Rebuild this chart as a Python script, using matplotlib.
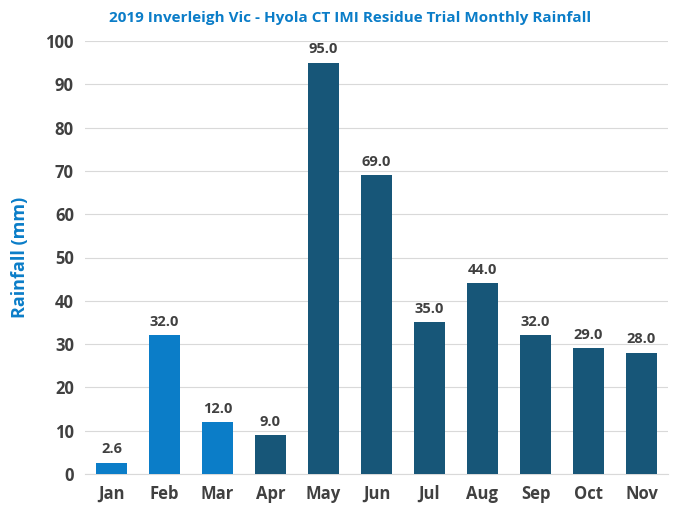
import matplotlib.pyplot as plt

months = ['Jan', 'Feb', 'Mar', 'Apr', 'May', 'Jun', 'Jul', 'Aug', 'Sep', 'Oct', 'Nov']
rainfall = [2.6, 32.0, 12.0, 9.0, 95.0, 69.0, 35.0, 44.0, 32.0, 29.0, 28.0]
colors = ['#0B7DC8'] * 3 + ['#175678'] * 8

plt.rcParams['font.family'] = ['Open Sans', 'DejaVu Sans']

fig = plt.figure(figsize=(6.73, 5.23), dpi=100)
ax = fig.add_axes([85 / 673, 1 - 474 / 523, 583 / 673, 433 / 523])

bars = ax.bar(months, rainfall, color=colors, width=0.6, zorder=3)
for b, v in zip(bars, rainfall):
    ax.text(b.get_x() + b.get_width() / 2, v + 1.5, f'{v:.1f}', ha='center', va='bottom',
            fontsize=10.5, fontweight='bold', color='#404040')

ax.set_ylim(0, 100)
ax.set_xlim(-0.5, len(months) - 0.5)
ax.set_yticks(range(0, 101, 10))
ax.grid(axis='y', color='#D9D9D9', linewidth=0.8, zorder=0)
for s in ['top', 'right', 'left']:
    ax.spines[s].set_visible(False)
ax.spines['bottom'].set_color('#D9D9D9')
ax.tick_params(length=0, labelsize=12, labelcolor='#404040', pad=8)
for lab in ax.get_xticklabels() + ax.get_yticklabels():
    lab.set_fontweight('bold')

ax.set_ylabel('Rainfall (mm)', fontsize=13, fontweight='bold', color='#0B7DC8', labelpad=12)
fig.text(0.52, 0.965, '2019 Inverleigh Vic - Hyola CT IMI Residue Trial Monthly Rainfall',
         ha='center', va='center', fontsize=11, fontweight='bold', color='#0B7DC8')

fig.savefig('out.png', dpi=100)
